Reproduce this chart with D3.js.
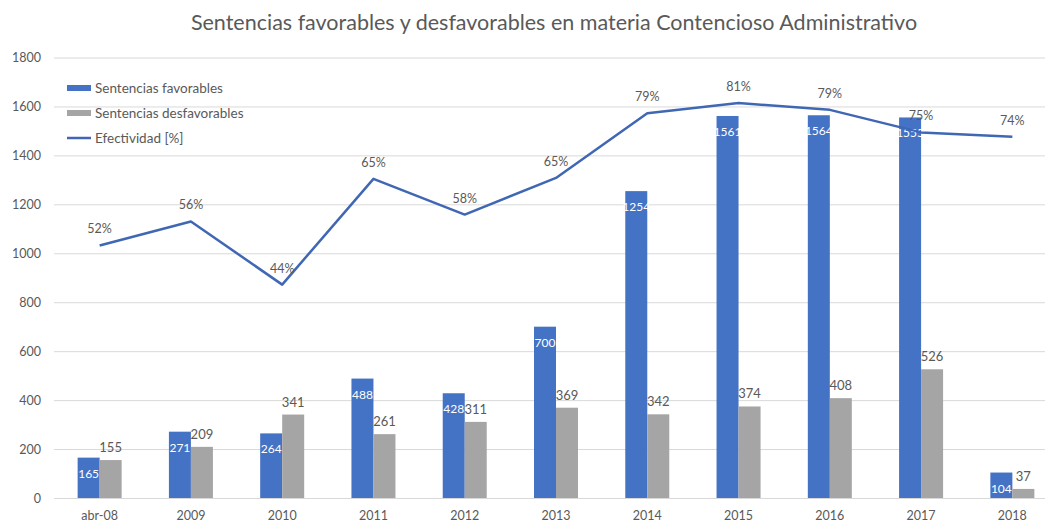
<!DOCTYPE html>
<html>
<head>
<meta charset="utf-8">
<script src="https://cdn.jsdelivr.net/npm/d3@7"></script>
<style>
	body { margin: 0; background: #fff; }
	text { font-family: Lato, "Open Sans", sans-serif; fill: #595959; }
</style>
</head>
<body>
<svg id="chart" width="1045" height="525"></svg>
<script>
const categories = ['abr-08', '2009', '2010', '2011', '2012', '2013', '2014', '2015', '2016', '2017', '2018'];
const favorables = [165, 271, 264, 488, 428, 700, 1254, 1561, 1564, 1555, 104];
const desfavorables = [155, 209, 341, 261, 311, 369, 342, 374, 408, 526, 37];
const efectividad = [0.516, 0.565, 0.436, 0.652, 0.579, 0.654, 0.786, 0.807, 0.793, 0.747, 0.738];
const yTicks = [0, 200, 400, 600, 800, 1000, 1200, 1400, 1600, 1800];

const BLUE = '#4472C4';
const LINE_BLUE = '#4067B4';
const GRAY = '#A5A5A5';

const svg = d3.select('#chart');

const x = d3.scaleBand().domain(categories).range([54, 1058]);
const y = d3.scaleLinear().domain([0, 1800]).range([498, 57.5]);
// hidden secondary axis for the percentage line
const y2 = d3.scaleLinear().domain([0, 0.9]).range([498, 57.5]);
const barW = 22;

// title
svg.append('text')
	.attr('x', 554).attr('y', 30)
	.attr('text-anchor', 'middle')
	.style('font-size', '21.5px')
	.text('Sentencias favorables y desfavorables en materia Contencioso Administrativo');

// gridlines + y labels
const yAxis = svg.append('g').attr('transform', 'translate(54,0)')
	.call(d3.axisLeft(y).tickValues(yTicks).tickSize(-1010).tickPadding(13).tickFormat(d3.format('d')));
yAxis.select('.domain').remove();
yAxis.selectAll('.tick line').attr('stroke', '#D9D9D9');
yAxis.selectAll('.tick text').style('font-size', '12.5px').attr('fill', '#595959');

// x labels
const xAxis = svg.append('g').attr('transform', 'translate(0,498)')
	.call(d3.axisBottom(x).tickSize(0).tickPadding(13));
xAxis.select('.domain').remove();
xAxis.selectAll('.tick text').style('font-size', '12.5px').attr('fill', '#595959');

/* -------------------- BARS ---------------------- */
svg.append('g').selectAll('rect').data(favorables).join('rect')
	.attr('x', (d, i) => x(categories[i]) + x.bandwidth() / 2 - barW)
	.attr('y', d => y(d))
	.attr('width', barW)
	.attr('height', d => y(0) - y(d))
	.attr('fill', BLUE);

svg.append('g').selectAll('rect').data(desfavorables).join('rect')
	.attr('x', (d, i) => x(categories[i]) + x.bandwidth() / 2)
	.attr('y', d => y(d))
	.attr('width', barW)
	.attr('height', d => y(0) - y(d))
	.attr('fill', GRAY);

// labels
svg.append('g').selectAll('text').data(favorables).join('text')
	.attr('x', (d, i) => x(categories[i]) + x.bandwidth() / 2 - barW / 2)
	.attr('y', d => y(d) + 20)
	.attr('text-anchor', 'middle')
	.style('font-size', '12px')
	.style('fill', '#fff')
	.text(d => d);

svg.append('g').selectAll('text').data(desfavorables).join('text')
	.attr('x', (d, i) => x(categories[i]) + x.bandwidth() / 2 + barW / 2)
	.attr('y', d => y(d) - 8)
	.attr('text-anchor', 'middle')
	.style('font-size', '13px')
	.text(d => d);

/* -------------------- LINE ---------------------- */
const line = d3.line()
	.x((d, i) => x(categories[i]) + x.bandwidth() / 2)
	.y(d => y2(d));

svg.append('path')
	.datum(efectividad)
	.attr('d', line)
	.attr('fill', 'none')
	.attr('stroke', LINE_BLUE)
	.attr('stroke-width', 2.5)
	.attr('stroke-linejoin', 'round');

svg.append('g').selectAll('text').data(efectividad).join('text')
	.attr('x', (d, i) => x(categories[i]) + x.bandwidth() / 2)
	.attr('y', d => y2(d) - 12)
	.attr('text-anchor', 'middle')
	.style('font-size', '12.5px')
	.text(d => `${Math.round(d * 100)}%`);

/* -------------------- LEGEND ---------------------- */
const legend = svg.append('g').attr('transform', 'translate(67,0)');
legend.append('rect').attr('x', 0).attr('y', 85).attr('width', 24).attr('height', 6).attr('fill', BLUE);
legend.append('rect').attr('x', 0).attr('y', 110).attr('width', 24).attr('height', 6).attr('fill', GRAY);
legend.append('line').attr('x1', 0).attr('x2', 24).attr('y1', 138).attr('y2', 138)
	.attr('stroke', LINE_BLUE).attr('stroke-width', 2.5);
legend.selectAll('text.lbl')
	.data(['Sentencias favorables', 'Sentencias desfavorables', 'Efectividad [%]'])
	.join('text')
	.attr('class', 'lbl')
	.attr('x', 28)
	.attr('y', (d, i) => 93 + i * 25)
	.style('font-size', '13.5px')
	.text(d => d);
</script>
</body>
</html>
